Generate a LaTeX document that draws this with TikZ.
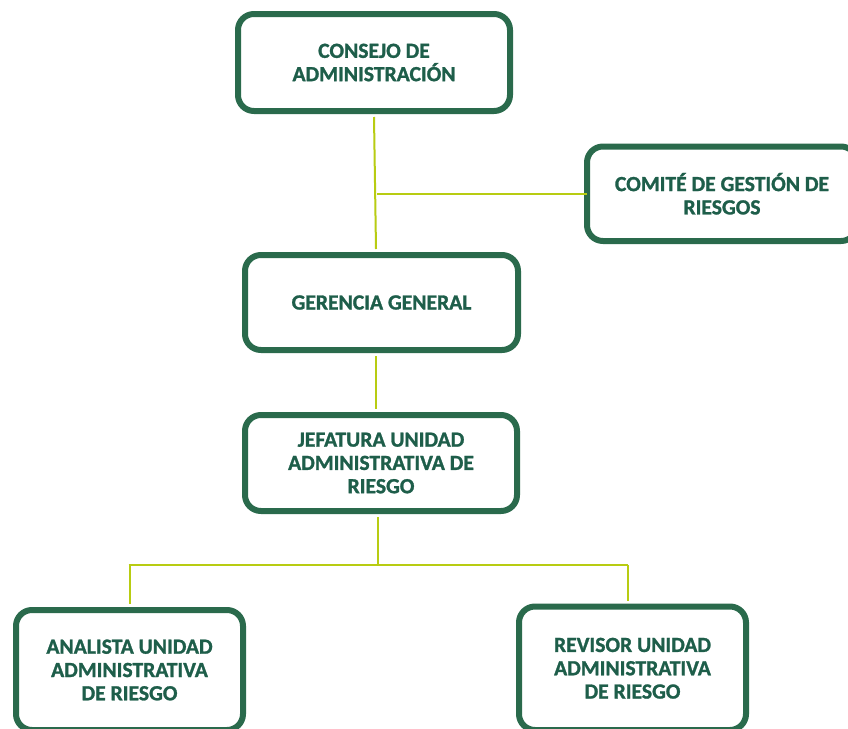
\documentclass[tikz,border=0pt]{standalone}
\usepackage{fontspec}
\setmainfont{Carlito}[BoldFeatures={FakeBold=1.2}]
\definecolor{boxgreen}{RGB}{42,106,76}
\definecolor{txtgreen}{RGB}{30,94,74}
\definecolor{linegreen}{RGB}{184,204,18}
\tikzset{
  orgbox/.style={draw=boxgreen, line width=6pt, rounded corners=16pt, fill=white,
    align=center, inner sep=0pt, text=txtgreen,
    font=\fontsize{21.6}{23.3}\selectfont\bfseries},
  conn/.style={draw=linegreen, line width=2pt}
}
\begin{document}
\begin{tikzpicture}[x=1pt,y=-1pt]
\useasboundingbox (0,0) rectangle (848,728);
\clip (0,0) rectangle (848,728);
\fill[white] (0,0) rectangle (848,728);
\coordinate (bus) at (378,565);
\node[orgbox, minimum width=272pt, minimum height=97pt] (c) at (374,62.5) {CONSEJO DE\\ADMINISTRACIÓN};
\node[orgbox, minimum width=270pt, minimum height=94.5pt] (k) at (722,193.75) {COMITÉ DE GESTIÓN DE\\RIESGOS};
\node[orgbox, minimum width=273pt, minimum height=95pt] (g) at (381.5,302.5) {GERENCIA GENERAL};
\node[orgbox, minimum width=272pt, minimum height=96pt] (j) at (381,463) {JEFATURA UNIDAD\\ADMINISTRATIVA DE\\RIESGO};
\node[orgbox, minimum width=227pt, minimum height=120pt] (a) at (129.5,670) {ANALISTA UNIDAD\\ADMINISTRATIVA\\DE RIESGO};
\node[orgbox, minimum width=227pt, minimum height=123.5pt] (r) at (632.5,668.25) {REVISOR UNIDAD\\ADMINISTRATIVA\\DE RIESGO};
\draw[conn] ([yshift=-3pt]c.south) -- ([xshift=-5.5pt,yshift=3pt]g.north);
\draw[conn] ([xshift=3pt]k.west) -- ([xshift=3pt]k.west -| c.south);
\draw[conn] ([xshift=-5.5pt,yshift=-3pt]g.south) -- ([xshift=-5pt,yshift=3pt]j.north);
\draw[conn] ([xshift=-3pt,yshift=-3pt]j.south) -- (bus);
\draw[conn] ([xshift=-1pt]bus -| a.north) -- ([xshift=-4.5pt]bus -| r.north);
\draw[conn] (bus -| a.north) -- ([yshift=3pt]a.north);
\draw[conn] ([xshift=-4.5pt]bus -| r.north) -- ([xshift=-4.5pt,yshift=3pt]r.north);
\end{tikzpicture}
\end{document}
